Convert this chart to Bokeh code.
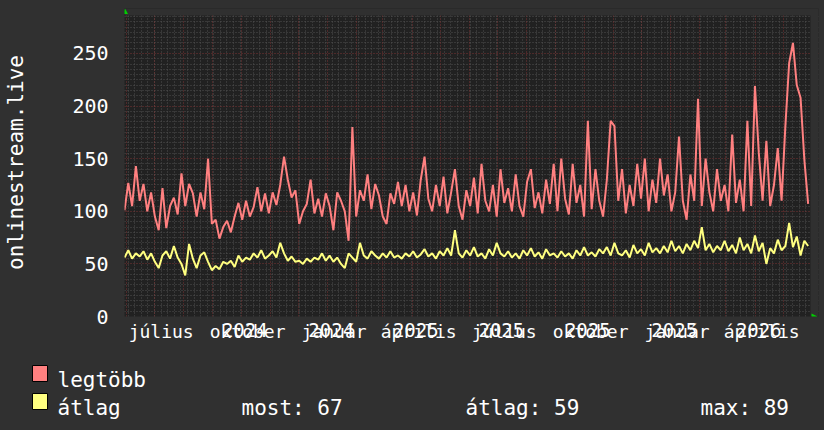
import re
import pandas as pd
from bokeh.plotting import figure
from bokeh.layouts import column
from bokeh.models import (Range1d, FixedTicker, Grid, BoxAnnotation, PolyAnnotation,
                          DatetimeAxis)
from bokeh.core.properties import value
from bokeh.embed import file_html
from bokeh.resources import INLINE

# ---------------- data ----------------
legtobb = [101, 127, 105, 143, 110, 126, 100, 118, 95, 82,
           122, 84, 105, 113, 97, 136, 105, 126, 117, 95,
           118, 102, 150, 88, 92, 74, 85, 91, 80, 95,
           108, 92, 110, 95, 104, 123, 100, 117, 98, 118,
           106, 125, 152, 130, 113, 120, 88, 100, 107, 130,
           98, 112, 95, 117, 105, 82, 118, 110, 100, 72,
           180, 95, 120, 110, 135, 102, 126, 115, 95, 88,
           117, 107, 128, 105, 125, 100, 118, 96, 130, 152,
           112, 100, 125, 105, 133, 98, 118, 140, 105, 92,
           120, 105, 132, 98, 145, 110, 100, 125, 95, 140,
           108, 122, 100, 135, 105, 95, 128, 140, 103, 118,
           98, 130, 107, 145, 100, 150, 112, 97, 145, 108,
           125, 95, 186, 102, 140, 110, 95, 130, 186, 181,
           110, 140, 98, 125, 105, 145, 112, 150, 100, 130,
           108, 150, 115, 135, 100, 118, 171, 110, 92, 135,
           110, 207, 105, 150, 118, 100, 140, 110, 125, 100,
           173, 108, 130, 100, 186, 105, 219, 156, 110, 167,
           105, 125, 160, 110, 181, 241, 260, 220, 208, 149,
           107]

atlag = [56, 63, 55, 60, 57, 62, 54, 60, 52, 46,
         58, 62, 55, 67, 56, 50, 39, 69, 55, 46,
         58, 61, 52, 44, 48, 45, 52, 50, 53, 47,
         58, 52, 56, 54, 60, 56, 63, 55, 58, 62,
         56, 70, 60, 53, 57, 52, 53, 50, 55, 52,
         56, 54, 60, 53, 58, 52, 56, 50, 46, 60,
         56, 52, 70, 58, 55, 62, 58, 55, 60, 56,
         62, 56, 58, 55, 60, 57, 62, 56, 59, 64,
         57, 60, 55, 62, 58, 65, 58, 82, 60, 56,
         63, 58, 66, 57, 60, 55, 64, 58, 70, 60,
         57, 62, 56, 60, 55, 63, 58, 65, 57, 61,
         55, 64, 58, 60, 56, 62, 57, 60, 55, 63,
         58, 66, 58, 61, 57, 64, 60, 66, 58, 70,
         60, 58, 63, 56, 68, 60, 64, 58, 70, 61,
         65, 60, 67, 61, 72, 62, 67, 60, 69, 63,
         72, 65, 85, 63, 69, 61, 67, 63, 72, 62,
         68, 60, 75, 63, 69, 60, 77, 62, 70, 50,
         65, 60, 73, 63, 67, 89, 66, 76, 58, 72,
         67]

series_start = "2024-05-30"
series_step = "97h"
range_start = "2024-05-30"
range_end = "2026-05-30"

label_months = ["2024-07-01", "2024-10-01", "2025-01-01", "2025-04-01",
                "2025-07-01", "2025-10-01", "2026-01-01", "2026-04-01"]
month_names = ["július", "október", "január", "április",
               "július", "október", "január", "április"]
year_labels = ["", "2024", "2024", "2025", "2025", "2025", "2025", "2026"]
y_ticks = [0, 50, 100, 150, 200, 250]
y_max = 286.1
legend_names = ["legtöbb", "átlag"]
stats_texts = ["most: 67", "átlag: 59", "max: 89"]
y_title = "onlinestream.live"

# ---------------- style / layout ----------------
BG = "#303030"
PLOT_BG = "#212121"
RED = "#ff8080"
YEL = "#ffff80"
MINOR = "#505050"
MAJOR = "#7a3434"
GREEN = "#00d000"
FONT = "DejaVu Sans Mono"

W = 824
H1, H2 = 355, 75
PL, PR, PT, PB = 124, 810, 15, 316   # plot area (window px)
FT, FR = 8, 818                       # frame extends a bit for the arrows


def ms(s):
    return pd.Timestamp(s).value // 10**6


x0, x1 = ms(range_start), ms(range_end)
DAY = 86400000


def X(px):
    return x0 + (px - PL) / (PR - PL) * (x1 - x0)


def Y(py):
    return (PB - py) / (PB - PT) * y_max


times = pd.date_range(series_start, periods=len(legtobb), freq=series_step)

p = figure(width=W, height=H1, title=None, x_axis_type="datetime",
           x_range=Range1d(x0, X(FR)), y_range=Range1d(0, Y(FT)),
           output_backend="svg", toolbar_location=None,
           min_border_left=PL, min_border_right=W - FR,
           min_border_top=FT, min_border_bottom=H1 - PB,
           background_fill_color=PLOT_BG, border_fill_color=BG,
           outline_line_color=None, styles={"background-color": BG})
p.frame_align = False

p.xgrid.visible = False
p.ygrid.visible = False

# grids
minor_y = [v for v in range(5, 290, 5) if v % 50]
major_y = [v for v in range(50, 290, 50)]
weeks = [t.value // 10**6 for t in pd.date_range("2024-06-03", range_end, freq="7D")]
months = [t.value // 10**6 for t in pd.date_range("2024-06-01", range_end, freq="MS")]

p.add_layout(Grid(dimension=1, ticker=FixedTicker(ticks=minor_y),
                  grid_line_color=MINOR, grid_line_dash="1 2", grid_line_width=1))
p.add_layout(Grid(dimension=0, ticker=FixedTicker(ticks=weeks),
                  grid_line_color=MINOR, grid_line_dash="1 2", grid_line_width=1))
p.add_layout(Grid(dimension=1, ticker=FixedTicker(ticks=major_y),
                  grid_line_color=MAJOR, grid_line_dash="1 2", grid_line_width=1))
p.add_layout(Grid(dimension=0, ticker=FixedTicker(ticks=months),
                  grid_line_color=MAJOR, grid_line_dash="1 2", grid_line_width=1))

# series
p.line(times, legtobb, line_color=RED, line_width=2)
p.line(times, atlag, line_color=YEL, line_width=2)

# strips outside the plot area (page colour) + green arrows
p.add_layout(BoxAnnotation(bottom=y_max, fill_color=BG, fill_alpha=1, line_color=None,
                           level="overlay"))
p.add_layout(BoxAnnotation(left=x1, fill_color=BG, fill_alpha=1, line_color=None,
                           level="overlay"))
p.add_layout(PolyAnnotation(xs=[X(121.5), X(127.5), X(124.5)], ys=[Y(13.5), Y(13.5), Y(8)],
                            fill_color=GREEN, fill_alpha=1, line_color=None, level="overlay"))
p.add_layout(PolyAnnotation(xs=[X(811), X(811), X(817)], ys=[Y(313), Y(319), Y(316)],
                            fill_color=GREEN, fill_alpha=1, line_color=None, level="overlay"))

# y axis
ya = p.yaxis[0]
ya.ticker = FixedTicker(ticks=y_ticks)
ya.major_tick_line_color = None
ya.minor_tick_line_color = None
ya.major_tick_out = 0
ya.minor_tick_out = 0
ya.axis_line_color = None
ya.major_label_standoff = 16
ya.major_label_text_color = "white"
ya.major_label_text_font = FONT
ya.major_label_text_font_size = "20px"
ya.axis_label = y_title
ya.axis_label_text_color = "white"
ya.axis_label_text_font = FONT
ya.axis_label_text_font_size = "21px"
ya.axis_label_text_font_style = "normal"
ya.axis_label_text_line_height = 1.0
ya.axis_label_standoff = 41

# x axis: month names
month_pos = [ms(m) + 7 * DAY for m in label_months]
xa = p.xaxis[0]
xa.ticker = FixedTicker(ticks=month_pos)
xa.major_label_overrides = {t: n for t, n in zip(month_pos, month_names)}
xa.major_tick_line_color = None
xa.minor_tick_line_color = None
xa.major_tick_out = 0
xa.minor_tick_out = 0
xa.axis_line_color = None
xa.major_label_standoff = 4
xa.major_label_text_color = "white"
xa.major_label_text_font = FONT
xa.major_label_text_font_size = "18px"

# second x axis: year labels drawn over the month names
year_pos = [ms(m) + 4 * DAY for m, y in zip(label_months, year_labels) if y]
year_txt = [y for y in year_labels if y]
xa2 = DatetimeAxis(ticker=FixedTicker(ticks=year_pos),
                   major_label_overrides={t: y for t, y in zip(year_pos, year_txt)},
                   major_tick_line_color=None, minor_tick_line_color=None,
                   major_tick_out=0, minor_tick_out=0, axis_line_color=None,
                   major_label_standoff=-22, major_label_text_color="white",
                   major_label_text_font=FONT, major_label_text_font_size="19px")
p.add_layout(xa2, "below")

# ---------------- legend strip ----------------
p2 = figure(width=W, height=H2, title=None, x_range=Range1d(0, W), y_range=Range1d(H2, 0),
            output_backend="svg", toolbar_location=None,
            x_axis_location=None, y_axis_location=None, min_border=0,
            min_border_left=0, min_border_right=0, min_border_top=0, min_border_bottom=0,
            background_fill_color=BG, border_fill_color=BG, outline_line_color=None,
            styles={"background-color": BG})
p2.frame_align = False
p2.xgrid.visible = False
p2.ygrid.visible = False

sq_top = [365 - H1, 393 - H1]
p2.quad(left=[32, 32], right=[47, 47], top=sq_top, bottom=[t + 16 for t in sq_top],
        fill_color=[RED, YEL], line_color="black", line_width=1)
p2.text(x=[57, 57], y=[379 - H1, 407 - H1], text=legend_names,
        text_baseline="alphabetic", text_align="left", text_color="white",
        text_font=value(FONT), text_font_size=value("21px"))
p2.text(x=[241, 465, 700], y=[407 - H1] * 3, text=stats_texts,
        text_baseline="alphabetic", text_align="left", text_color="white",
        text_font=value(FONT), text_font_size=value("21px"))

layout = column(p, p2, spacing=0, styles={"background-color": BG})

html = file_html(layout, INLINE, title="onlinestream.live")
html = re.sub(r"<body>", '<body style="background-color:#303030;">', html, count=1)
open("out.html", "w", encoding="utf-8").write(html)
